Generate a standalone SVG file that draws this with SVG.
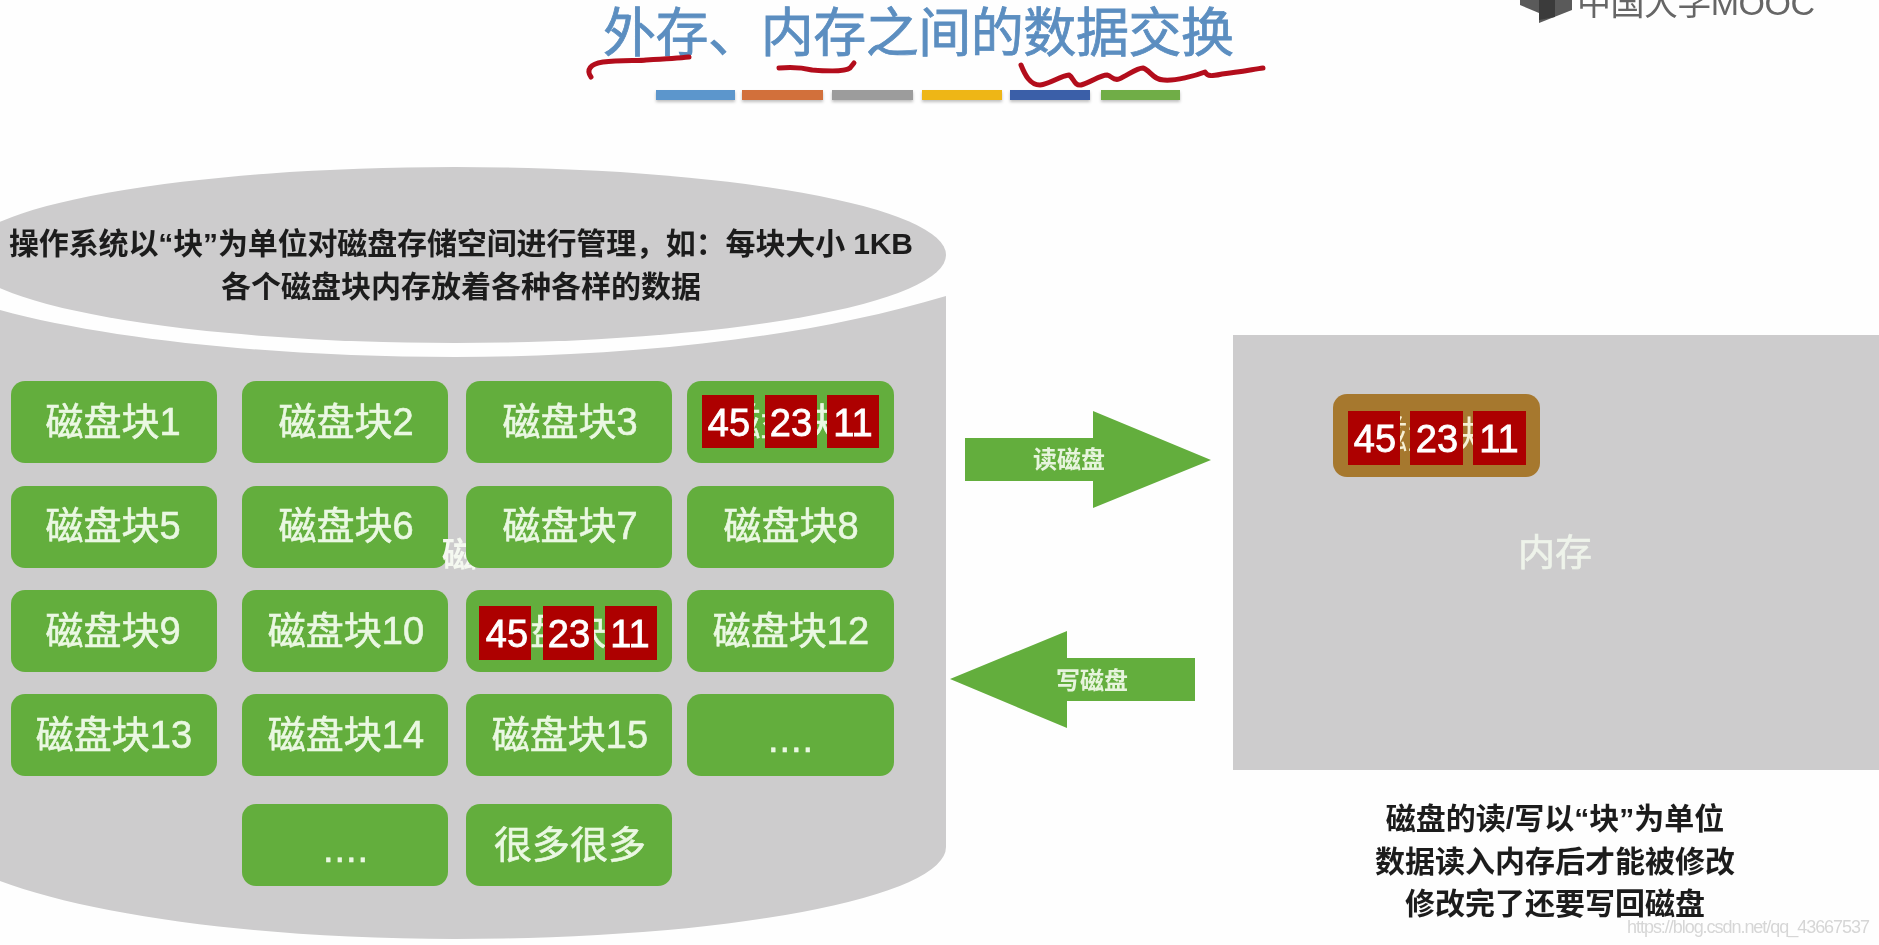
<svg xmlns="http://www.w3.org/2000/svg" width="1879" height="945" viewBox="0 0 1879 945">
<defs>
<filter id="soft" x="-5%" y="-5%" width="110%" height="110%"><feGaussianBlur stdDeviation="0.7"/></filter>
<filter id="barShadow" x="-10%" y="-30%" width="120%" height="180%"><feDropShadow dx="0" dy="2" stdDeviation="1.5" flood-color="#000" flood-opacity="0.25"/></filter>
</defs>
<style>
text{font-family:"Liberation Sans","Noto Sans CJK SC",sans-serif}
.gray{fill:#cdcccd}
.block{fill:#64ae3e}
.bt{fill:#eaf8e2;stroke:#eaf8e2;stroke-width:.6;font-size:38px;text-anchor:middle}
.red{fill:#ad0000}
.num{fill:#fff;stroke:#fff;stroke-width:.8;font-size:38px;text-anchor:middle}
.cap{fill:#1c1c1c;font-size:30px;font-weight:bold;text-anchor:middle}
.ink{fill:none;stroke:#b3101c;stroke-width:5;stroke-linecap:round;stroke-linejoin:round}
.arrow{fill:#64ae3e}
.al{fill:#e6f4dc;font-size:24px;font-weight:bold;text-anchor:middle}
</style>
<rect width="1879" height="945" fill="#fefefe"/>
<g filter="url(#soft)">
<g id="title">
<text x="603" y="52" fill="#5b8ec0" stroke="#5b8ec0" stroke-width=".8" font-size="53" textLength="631" lengthAdjust="spacing">外存、内存之间的数据交换</text>
<path class="ink" d="M591 77C586 70 590 64 603 62C620 60 640 61 646 60C665 59 680 58 689 57"/>
<path class="ink" d="M779 68C790 67 800 67 812 70C825 71 845 72 850 68L854 63"/>
<path class="ink" d="M1021 65C1025 75 1030 85 1040 85C1050 84 1060 76 1069 75C1074 78 1074 86 1081 85C1090 83 1100 75 1107 75C1112 76 1113 81 1119 79C1127 76 1136 68 1143 68C1150 70 1153 80 1164 80C1175 81 1195 76 1205 72C1208 77 1212 76 1222 74C1240 72 1255 69 1263 68"/>
</g>
<g id="title-bars" filter="url(#barShadow)">
<rect x="656" y="90" width="79" height="10" fill="#5b96cc"/>
<rect x="742" y="90" width="81" height="10" fill="#d2703a"/>
<rect x="832" y="90" width="81" height="10" fill="#9c9c9c"/>
<rect x="922" y="90" width="80" height="10" fill="#eeb614"/>
<rect x="1010" y="90" width="80" height="10" fill="#3a5ea8"/>
<rect x="1101" y="90" width="79" height="10" fill="#70ad47"/>
</g>
<g id="mooc-logo">
<polygon points="1520,0 1572,0 1572,10 1539,23 1539,13 1520,5" fill="#5a5a5a"/>
<polygon points="1539,0 1555,0 1555,17 1539,20" fill="#3a3a3a"/>
<text x="1577" y="15" fill="#666" font-size="34" textLength="238" lengthAdjust="spacing">中国大学MOOC</text>
</g>
<g id="disk">
<path class="gray" d="M946 296C800 340 620 357 455 357C280 357 110 340 0 310L0 881C90 915 260 939 455 939A491 92 0 0 0 946 847Z"/>
<ellipse class="gray" cx="455" cy="255" rx="491" ry="88"/>
<text class="cap" x="461" y="254" textLength="904" lengthAdjust="spacing">操作系统以“块”为单位对磁盘存储空间进行管理，如：每块大小 1KB</text>
<text class="cap" x="461" y="297">各个磁盘块内存放着各种各样的数据</text>
</g>
<g id="block-1"><rect class="block" x="11" y="381" width="206" height="82" rx="14"/><text class="bt" x="113" y="435">磁盘块1</text></g>
<g id="block-2"><rect class="block" x="242" y="381" width="206" height="82" rx="14"/><text class="bt" x="346" y="435">磁盘块2</text></g>
<g id="block-3"><rect class="block" x="466" y="381" width="206" height="82" rx="14"/><text class="bt" x="570" y="435">磁盘块3</text></g>
<g id="block-4"><rect class="block" x="687" y="381" width="207" height="82" rx="14"/><text class="bt" x="790" y="435">磁盘块4</text>
<rect class="red" x="702" y="395" width="52" height="53"/><rect class="red" x="765" y="395" width="52" height="53"/><rect class="red" x="827" y="395" width="52" height="53"/>
<text class="num" x="729" y="436">45</text><text class="num" x="791" y="436">23</text><text class="num" x="853" y="436">11</text></g>
<g id="block-5"><rect class="block" x="11" y="486" width="206" height="82" rx="14"/><text class="bt" x="113" y="539">磁盘块5</text></g>
<g id="block-6"><rect class="block" x="242" y="486" width="206" height="82" rx="14"/><text class="bt" x="346" y="539">磁盘块6</text></g>
<g id="stray"><text x="442" y="567" fill="#f4f8f0" font-size="34" font-weight="bold">磁</text></g>
<g id="block-7"><rect class="block" x="466" y="486" width="206" height="82" rx="14"/><text class="bt" x="570" y="539">磁盘块7</text></g>
<g id="block-8"><rect class="block" x="687" y="486" width="207" height="82" rx="14"/><text class="bt" x="791" y="539">磁盘块8</text></g>
<g id="block-9"><rect class="block" x="11" y="590" width="206" height="82" rx="14"/><text class="bt" x="113" y="644">磁盘块9</text></g>
<g id="block-10"><rect class="block" x="242" y="590" width="206" height="82" rx="14"/><text class="bt" x="346" y="644">磁盘块10</text></g>
<g id="block-11"><rect class="block" x="466" y="590" width="206" height="82" rx="14"/><text class="bt" x="569" y="644">磁盘块11</text>
<rect class="red" x="479" y="606" width="52" height="54"/><rect class="red" x="543" y="606" width="51" height="54"/><rect class="red" x="605" y="606" width="52" height="54"/>
<text class="num" x="507" y="647">45</text><text class="num" x="569" y="647">23</text><text class="num" x="630" y="647">11</text></g>
<g id="block-12"><rect class="block" x="687" y="590" width="207" height="82" rx="14"/><text class="bt" x="791" y="644">磁盘块12</text></g>
<g id="block-13"><rect class="block" x="11" y="694" width="206" height="82" rx="14"/><text class="bt" x="114" y="748">磁盘块13</text></g>
<g id="block-14"><rect class="block" x="242" y="694" width="206" height="82" rx="14"/><text class="bt" x="346" y="748">磁盘块14</text></g>
<g id="block-15"><rect class="block" x="466" y="694" width="206" height="82" rx="14"/><text class="bt" x="570" y="748">磁盘块15</text></g>
<g id="block-16"><rect class="block" x="687" y="694" width="207" height="82" rx="14"/><text class="bt" x="791" y="752" letter-spacing="1">....</text></g>
<g id="block-17"><rect class="block" x="242" y="804" width="206" height="82" rx="14"/><text class="bt" x="346" y="862" letter-spacing="1">....</text></g>
<g id="block-18"><rect class="block" x="466" y="804" width="206" height="82" rx="14"/><text class="bt" x="570" y="858">很多很多</text></g>
<g id="connectors">
<g id="read-disk"><polygon class="arrow" points="965,438 1093,438 1093,411 1211,460 1093,508 1093,481 965,481"/><text class="al" x="1069" y="468">读磁盘</text></g>
<g id="write-disk"><polygon class="arrow" points="1195,658 1067,658 1067,631 950,679 1067,728 1067,701 1195,701"/><text class="al" x="1092" y="689">写磁盘</text></g>
</g>
<g id="memory">
<rect class="gray" x="1233" y="335" width="646" height="435"/>
<text x="1555" y="566" fill="#eef3ea" stroke="#eef3ea" stroke-width=".6" font-size="37" text-anchor="middle">内存</text>
<g id="memory-block"><rect x="1333" y="394" width="207" height="83" rx="14" fill="#a6782e"/><text x="1437" y="448" fill="#f6efd4" font-size="38" text-anchor="middle">磁盘块4</text>
<rect class="red" x="1348" y="411" width="52" height="54"/><rect class="red" x="1410" y="411" width="53" height="54"/><rect class="red" x="1473" y="411" width="53" height="54"/>
<text class="num" x="1375" y="452">45</text><text class="num" x="1437" y="452">23</text><text class="num" x="1499" y="452">11</text></g>
</g>
<g id="caption">
<text class="cap" x="1555" y="829">磁盘的读/写以“块”为单位</text>
<text class="cap" x="1555" y="872">数据读入内存后才能被修改</text>
<text class="cap" x="1555" y="914">修改完了还要写回磁盘</text>
</g>
<text x="1627" y="933" fill="#d6d6d6" font-size="18" textLength="243" lengthAdjust="spacing">https://blog.csdn.net/qq_43667537</text>
</g>
</svg>
